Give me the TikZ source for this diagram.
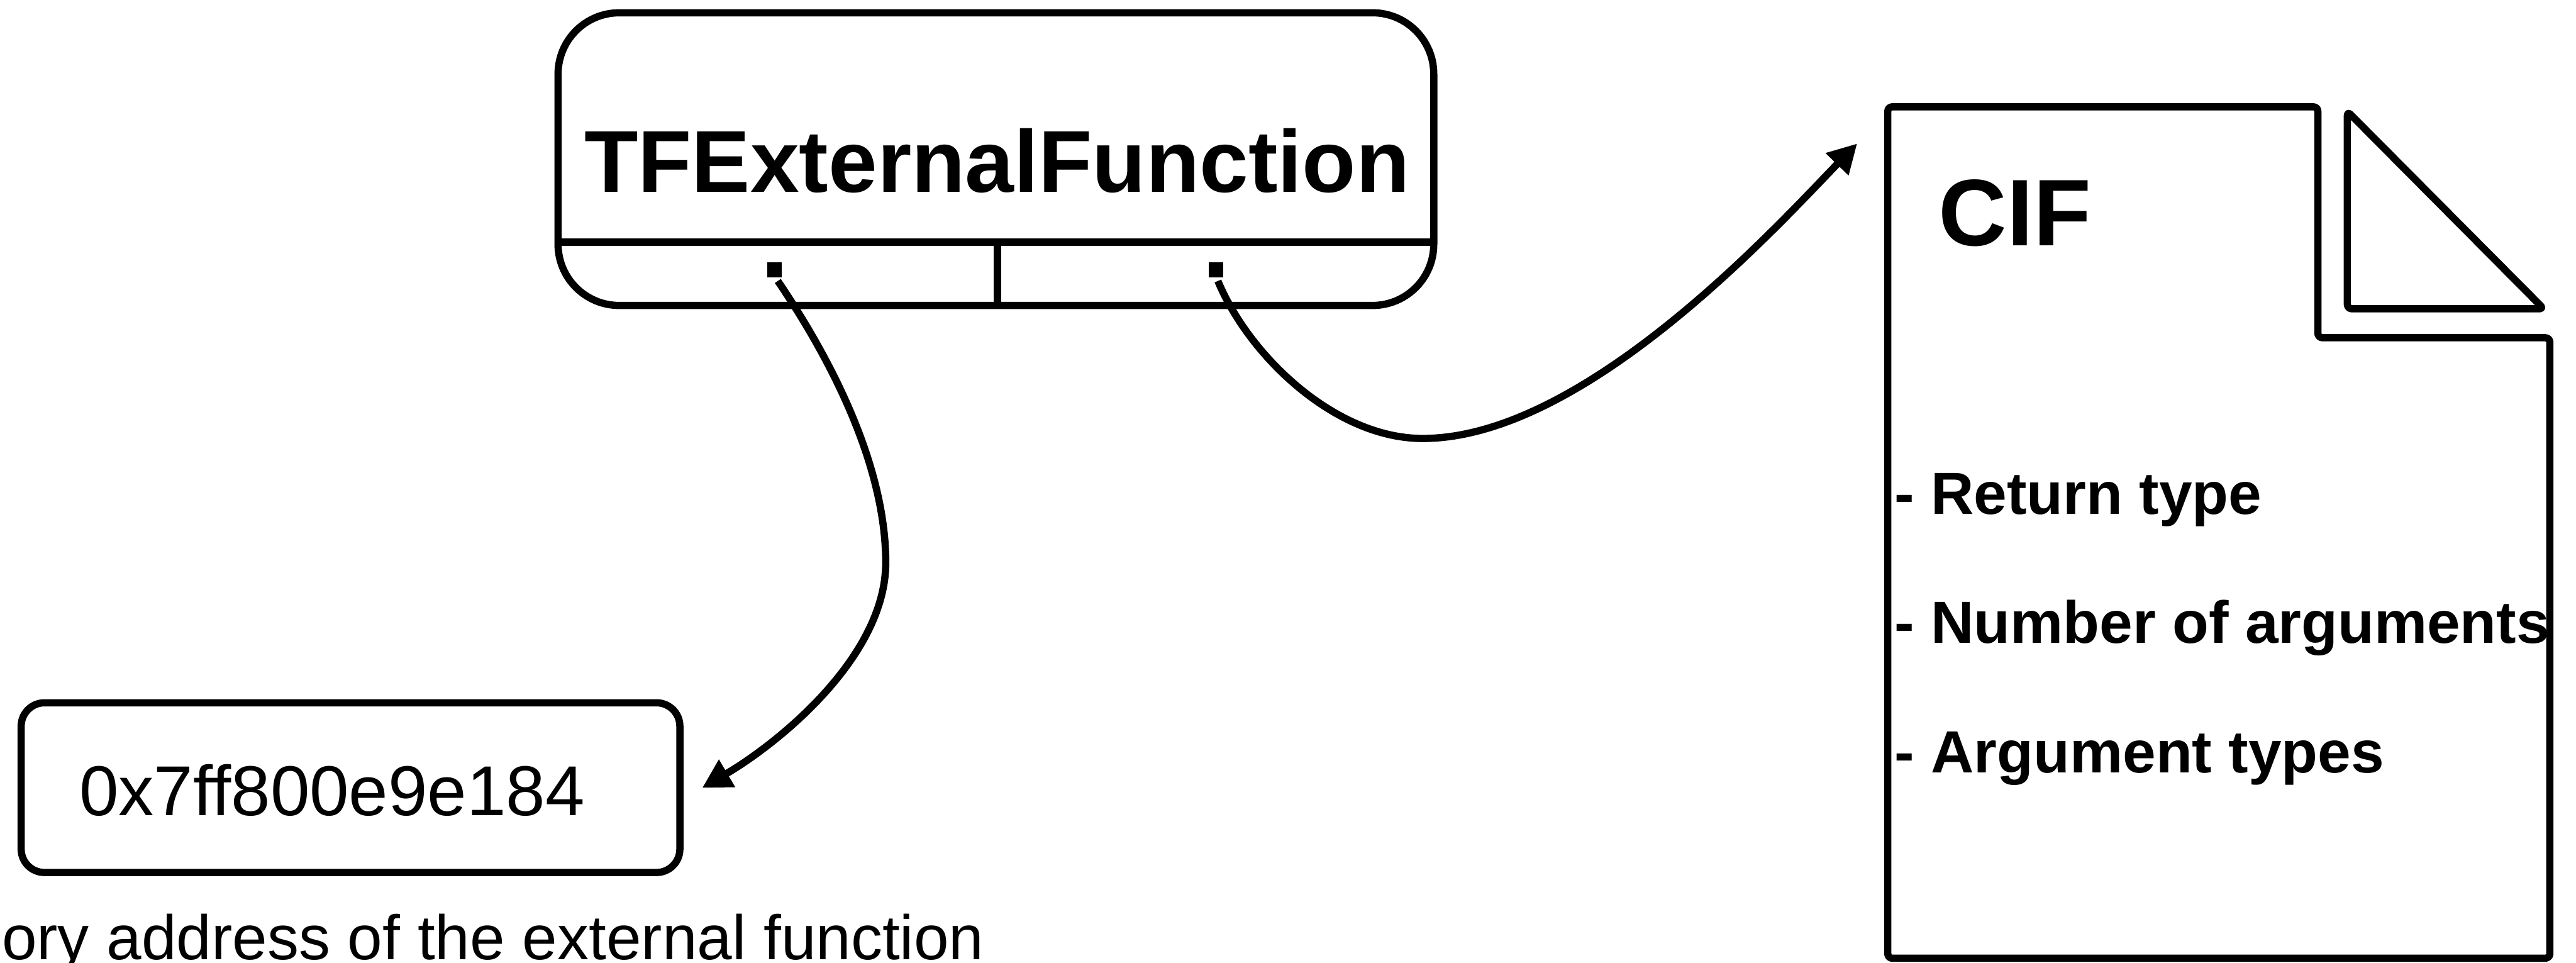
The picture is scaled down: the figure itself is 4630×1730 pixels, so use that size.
\documentclass[tikz,border=0pt]{standalone}
\usepackage{fontspec}
\setmainfont{Liberation Sans}
\usetikzlibrary{arrows.meta}
\begin{document}
\begin{tikzpicture}[x=0.1pt,y=-0.1pt,line width=1.3pt,
  outline/.style={draw=black,line width=1.3pt,inner sep=0pt},
  ptr/.style={fill=black,inner sep=0pt,minimum width=2.6pt,minimum height=2.7pt},
  link/.style={line width=1.3pt,-{Triangle[length=5.2pt,width=5.4pt]}},
  txt/.style={anchor=base west,inner sep=0pt},
  heading/.style={font=\bfseries\fontsize{15.8}{19}\selectfont},
  listitem/.style={txt,font=\bfseries\fontsize{10.7}{13}\selectfont}]
\useasboundingbox (0,0) rectangle (4630,1730);

% function record with its two pointer slots
\node[outline,rounded corners=11pt,minimum width=157.4pt,minimum height=52.6pt] (tfe) at (1790,286) {};
\draw (1003,435) -- (2577,435);
\draw (1793,435) -- (1793,549);
\node[heading,anchor=base,inner sep=0pt] (tfetitle) at (1792,345) {TFExternalFunction};
\node[ptr] (ptrA) at (1392,485) {};
\node[ptr] (ptrB) at (2186,485) {};

% address box
\node[outline,rounded corners=4.2pt,minimum width=118.4pt,minimum height=30.5pt] (addr) at (630,1415.5) {};
\node[txt,font=\fontsize{12.7}{15}\selectfont] (addrtext) at (136,1465) {0x7ff800e9e184};
\node[txt,font=\fontsize{11.3}{14}\selectfont] (addrnote) at (-3,1724) {ory address of the external function};

% CIF document with folded corner
\draw[line join=round,rounded corners=0.8pt] (3393,192) -- (4166,192) -- (4166,607) -- (4583,607) -- (4583,1722) -- (3393,1722) -- cycle;
\draw[line join=round,rounded corners=0.8pt] (4219,200) -- (4219,555) -- (4572,555) -- cycle;
\node[txt,font=\bfseries\fontsize{17}{20}\selectfont] (ciftitle) at (3478,441) {CIF};
\node[listitem] (item1) at (3399,924) {- Return type};
\node[listitem] (item2) at (3399,1156) {- Number of arguments};
\node[listitem] (item3) at (3399,1389) {- Argument types};

% pointer connectors
\coordinate (addrIn) at (1262,1416);
\coordinate (cifIn) at (3338,258);
\draw[link] ([xshift=0.6pt]ptrA.south) .. controls (1508,667) and (1592,850) .. (1592,1011)
  .. controls (1592,1180) and (1400,1335) .. (addrIn);
\draw[link] ([xshift=0.3pt]ptrB.south) .. controls (2245,640) and (2400,788) .. (2557,788)
  .. controls (2850,788) and (3200,400) .. (cifIn);
\end{tikzpicture}
\end{document}
